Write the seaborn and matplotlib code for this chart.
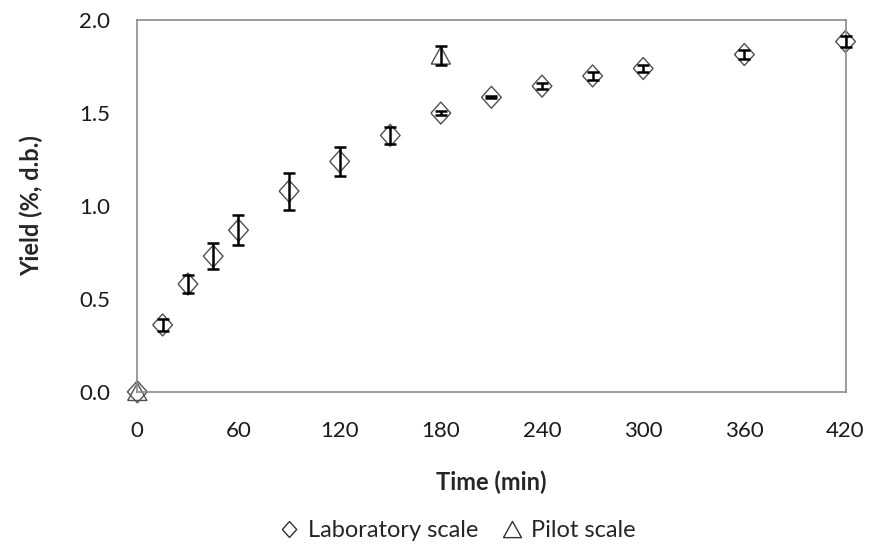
import numpy as np
import pandas as pd
import matplotlib.pyplot as plt
import seaborn as sns

# Laboratory scale data
lab_time = [0, 15, 30, 45, 60, 90, 120, 150, 180, 210, 240, 270, 300, 360, 420]
lab_yield = [0.0, 0.36, 0.58, 0.73, 0.87, 1.08, 1.24, 1.38, 1.50, 1.585, 1.645, 1.70, 1.74, 1.815, 1.885]
lab_err = [0.0, 0.03, 0.05, 0.07, 0.08, 0.10, 0.08, 0.045, 0.012, 0.006, 0.015, 0.02, 0.02, 0.025, 0.03]

# Pilot scale data
pilot_time = [0, 180]
pilot_yield = [0.0, 1.81]
pilot_err = [0.0, 0.05]

x_ticks = [0, 60, 120, 180, 240, 300, 360, 420]
y_ticks = [0.0, 0.5, 1.0, 1.5, 2.0]

lab = pd.DataFrame({'Time': lab_time, 'Yield': lab_yield, 'Err': lab_err})
pilot = pd.DataFrame({'Time': pilot_time, 'Yield': pilot_yield, 'Err': pilot_err})

# Excel-like open markers
diamond = [(-0.9, 0), (0, 1), (0.9, 0), (0, -1), (-0.9, 0)]
triangle = [(-1, -0.9), (0, 0.9), (1, -0.9), (-1, -0.9)]
edge = '#505050'

sns.set_style('white')
plt.rcParams['font.family'] = ['Lato', 'DejaVu Sans']

fig = plt.figure(figsize=(8.69, 5.45), dpi=100)
ax = fig.add_axes([0.158, 0.281, 0.815, 0.682])

sns.scatterplot(data=lab, x='Time', y='Yield', marker=diamond, s=250,
                facecolor='none', edgecolor=edge, linewidth=1.0,
                ax=ax, zorder=2, clip_on=False)
sns.scatterplot(data=pilot, x='Time', y='Yield', marker=triangle, s=190,
                facecolor='none', edgecolor=edge, linewidth=1.0,
                ax=ax, zorder=2, clip_on=False)

# error bars
for d in (lab, pilot):
    nz = d[d['Err'] > 0]
    ax.errorbar(nz['Time'], nz['Yield'], yerr=nz['Err'], fmt='none', ecolor='black',
                elinewidth=1.8, capsize=4, capthick=1.8, zorder=3, clip_on=False)

ax.set_xlim(0, 420)
ax.set_ylim(0, 2.0)
ax.set_xticks(x_ticks)
ax.set_yticks(y_ticks)
ax.set_yticklabels([f'{v:.1f}' for v in y_ticks])
ax.tick_params(axis='x', direction='out', length=6, width=1, color='#8c8c8c',
               labelsize=16, pad=15, labelcolor='#1a1a1a')
ax.tick_params(axis='y', direction='out', length=6.5, width=1, color='#8c8c8c',
               labelsize=16, pad=13, labelcolor='#1a1a1a')
for sp in ax.spines.values():
    sp.set_color('#8c8c8c')
    sp.set_linewidth(1.2)

ax.set_xlabel('Time (min)', fontsize=17, fontweight='bold', labelpad=21)
ax.set_ylabel('Yield (%, d.b.)', fontsize=17, fontweight='bold', labelpad=26)

# legend below the axis title
handles = [
    plt.Line2D([], [], marker=diamond, linestyle='none', markerfacecolor='none',
               markeredgecolor='#333333', markersize=11.5),
    plt.Line2D([], [], marker=triangle, linestyle='none', markerfacecolor='none',
               markeredgecolor='#333333', markersize=13),
]
fig.legend(handles, ['Laboratory scale', 'Pilot scale'], loc='center',
           bbox_to_anchor=(0.526, 0.026), ncol=2, frameon=False, fontsize=17,
           handlelength=0.9, handletextpad=0.35, columnspacing=1.0,
           borderpad=0.1)

fig.savefig('out.png', dpi=100)
